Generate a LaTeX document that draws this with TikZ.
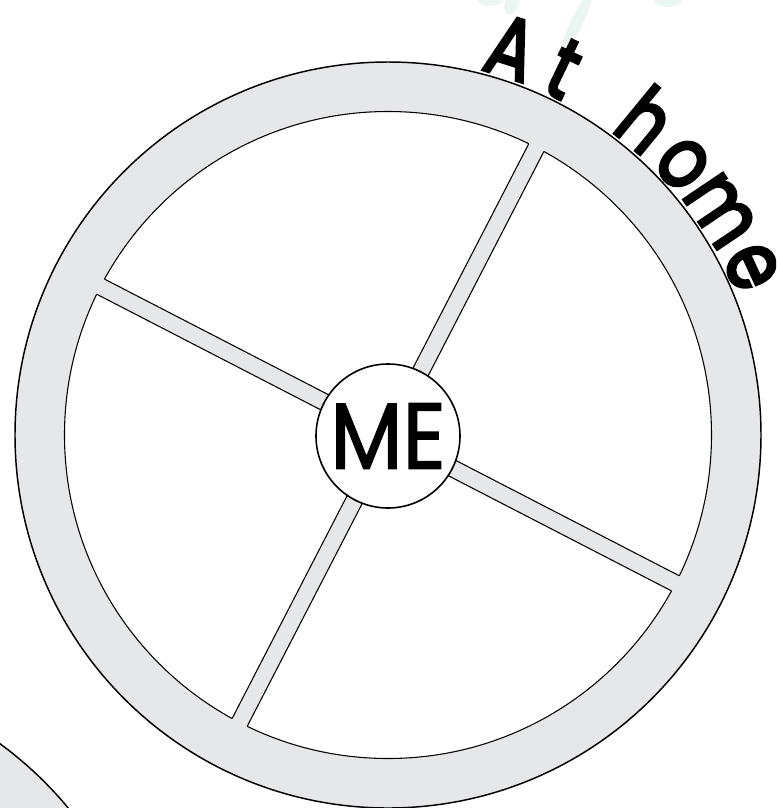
\documentclass[tikz,border=0pt]{standalone}
\usepackage{graphicx}
\usepackage{fontspec}
\setmainfont{Poppins}
\usetikzlibrary{calc}
\definecolor{ringgray}{HTML}{E6E7E8}
\definecolor{leafteal}{HTML}{EAF6F2}
\newcommand{\thickch}[2]{\special{pdf:literal direct 2 Tr #1 w}#2\special{pdf:literal direct 0 Tr}}
\newcommand{\narrowch}[1]{\scalebox{0.8}[1]{\thickch{2.6}{#1}}}
\begin{document}
\begin{tikzpicture}[x=0.75pt,y=-0.75pt,
  ring/.style={fill=ringgray,draw=black,line width=1.1pt},
  rim/.style={draw=black,line width=0.8pt},
  hub/.style={circle,draw=black,fill=white,line width=1.2pt,minimum size=108pt,inner sep=0pt,font=\fontsize{70}{70}\selectfont},
  letter/.style={anchor=base,inner sep=0pt,font=\fontsize{64}{64}\selectfont},
  leaf/.style={fill=leafteal}]
\useasboundingbox (0,0) rectangle (776,808);
\clip (0,0) rectangle (776,808);
\coordinate (c) at (388,435);
% faint leaves at the top
\fill[leaf] (490,0) ellipse[x radius=12, y radius=6];
\fill[leaf, rotate around={70:(512,3)}] (512,3) ellipse[x radius=12, y radius=7];
\fill[leaf, rotate around={64:(577,22)}] (577,22) ellipse[x radius=34, y radius=6];
\fill[leaf] (668,0) ellipse[x radius=14, y radius=7];
% neighbouring wheel (bottom left)
\draw[ring] (-223,1049) circle[radius=378];
% main wheel
\draw[ring] (c) circle[radius=373];
\draw[rim,fill=white] (c) circle[radius=323.5];
\foreach \a in {-62.7,27.3,117.3,207.3}{
  \fill[ringgray] ($(c)+(\a+90:8.5)$) -- ($(c)+(\a:345)+(\a+90:8.5)$) -- ($(c)+(\a:345)+(\a-90:8.5)$) -- ($(c)+(\a-90:8.5)$) -- cycle;
}
\begin{scope}
  \clip (c) circle[radius=323.5];
  \foreach \a in {-62.7,27.3,117.3,207.3}{
    \draw[rim] ($(c)+(\a+90:8.5)$) -- ($(c)+(\a:345)+(\a+90:8.5)$);
    \draw[rim] ($(c)+(\a-90:8.5)$) -- ($(c)+(\a:345)+(\a-90:8.5)$);
  }
\end{scope}
\node[hub] (me) at ($(c)+(0,1)$) {\scalebox{0.9}[1]{\thickch{1.2}{ME}}};
% curved title, letter by letter
\foreach \ch/\ang/\nm in {A/-72.3/l1, t/-64.3/l2, h/-50.6/l3, o/-42.6/l4, m/-34.0/l5, e/-24.8/l6}{
  \node[letter, rotate={-(\ang+90)}] (\nm) at ($(c)+(\ang:377)$) {\narrowch{\ch}};
}
\end{tikzpicture}
\end{document}
